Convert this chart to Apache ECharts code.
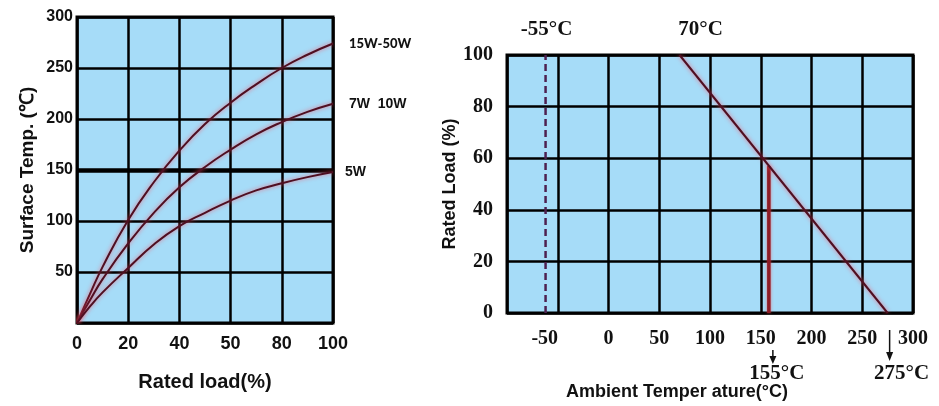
<!DOCTYPE html>
<html><head><meta charset="utf-8">
<script src="https://cdn.jsdelivr.net/npm/echarts@6/dist/echarts.min.js"></script>
<style>html,body{margin:0;padding:0;background:#fff}#c{width:939px;height:406px}</style>
</head><body><div id="c"></div>
<script>
// ---- Left chart data: surface temperature vs rated load ----
const loadPos = [0, 5, 10, 20, 30, 40, 50, 60, 70, 80, 90, 100];
const temp15to50W = [0, 28, 55, 101, 138, 169, 195, 216, 234, 250, 263, 274];
const temp7to10W = [0, 22, 43, 78, 108, 133, 153, 170, 185, 197, 207, 215];
const temp5W = [0, 16, 30, 54, 77, 95, 108, 120, 130, 137, 143, 148];
const loadTickLabels = ['0', '20', '40', '50', '80', '100'];
const seriesNames = ['15W-50W', '7W  10W', '5W'];
const refTemp = 150;

// ---- Right chart data: derating curve ----
const derateTemp = [70, 275];
const derateLoad = [100, 0];
const minTempLine = -62;          // dashed line (labelled -55°C)
const minTempLabel = '-55°C';
const kneeLabel = '70°C';
const ratedTemp = 158;            // red vertical line (labelled 155°C)
const ratedTempTop = 57;
const ratedTempLabel = '155°C';
const maxTempLabel = '275°C';

const BLUE = '#a6dcf8';
const CURVE = '#4f0f22';
const SANS = 'Liberation Sans, Arial, sans-serif';
const SERIF = 'Liberation Serif, Times New Roman, serif';

const zip = (xs, ys) => xs.map((x, i) => [x, ys[i]]);
const glow = { shadowColor: 'rgba(255,70,90,0.75)', shadowBlur: 4 };

const chart = echarts.init(document.getElementById('c'), null, { renderer: 'canvas' });

function curve(name, data) {
  return {
    type: 'line', name, xAxisIndex: 0, yAxisIndex: 0, data: zip(loadPos, data),
    smooth: 0.5, symbol: 'none', z: 5,
    lineStyle: Object.assign({ color: CURVE, width: 2 }, glow),
    endLabel: {
      show: true, formatter: name, offset: [name === '5W' ? 4 : 8, 0],
      fontFamily: name === '15W-50W' ? 'Lato, Open Sans, sans-serif' : SANS,
      fontWeight: name === '15W-50W' ? 900 : 'bold',
      fontSize: name === '15W-50W' ? 13 : 14, color: '#111'
    }
  };
}

const option = {
  animation: false,
  grid: [
    { left: 77, top: 17, width: 256, height: 306, show: true, backgroundColor: BLUE, borderColor: '#000', borderWidth: 3 },
    { left: 507, top: 55, width: 406, height: 261, show: true, backgroundColor: BLUE, borderColor: '#000', borderWidth: 3 }
  ],
  xAxis: [
    {
      gridIndex: 0, type: 'value', min: 0, max: 100, interval: 20,
      axisLine: { show: false }, axisTick: { show: false },
      splitLine: { lineStyle: { color: '#000', width: 2.5 } },
      axisLabel: { formatter: v => loadTickLabels[Math.round(v / 20)], fontFamily: SANS, fontWeight: 'bold', fontSize: 18, color: '#111', margin: 12 },
      name: 'Rated load(%)', nameLocation: 'middle', nameGap: 49,
      nameTextStyle: { fontFamily: SANS, fontWeight: 'bold', fontSize: 20, color: '#111' }
    },
    {
      gridIndex: 1, type: 'value', min: -100, max: 300, interval: 50,
      axisLine: { show: false }, axisTick: { show: false },
      splitLine: { lineStyle: { color: '#000', width: 2.5 } },
      axisLabel: {
        formatter: v => v === -100 ? '' : (v === -50 ? '{s|' + v + '}' : String(v)),
        rich: { s: { padding: [0, 26, 0, 0], fontFamily: SERIF, fontWeight: 'bold', fontSize: 20, color: '#111' } },
        fontFamily: SERIF, fontWeight: 'bold', fontSize: 20, color: '#111', margin: 16, showMaxLabel: true
      },
      name: 'Ambient Temper ature(°C)', nameLocation: 'middle', nameGap: 70,
      nameTextStyle: { fontFamily: SANS, fontWeight: 'bold', fontSize: 18, color: '#111', padding: [0, 66, 0, 0] }
    }
  ],
  yAxis: [
    {
      gridIndex: 0, type: 'value', min: 0, max: 300, interval: 50,
      axisLine: { show: false }, axisTick: { show: false },
      splitLine: { lineStyle: { color: '#000', width: 2.5 } },
      axisLabel: { formatter: v => v === 0 ? '' : String(v), fontFamily: SANS, fontWeight: 'bold', fontSize: 16, color: '#111', margin: 4 },
      name: 'Surface Temp. (℃)', nameLocation: 'middle', nameGap: 40, nameRotate: 90,
      nameTextStyle: { fontFamily: SANS, fontWeight: 'bold', fontSize: 19, color: '#111' }
    },
    {
      gridIndex: 1, type: 'value', min: 0, max: 100, interval: 20,
      axisLine: { show: false }, axisTick: { show: false },
      splitLine: { lineStyle: { color: '#000', width: 2.5 } },
      axisLabel: { fontFamily: SERIF, fontWeight: 'bold', fontSize: 20, color: '#111', margin: 14 },
      name: 'Rated Load (%)', nameLocation: 'middle', nameGap: 42, nameRotate: 90,
      nameTextStyle: { fontFamily: SANS, fontWeight: 'bold', fontSize: 18, color: '#111' }
    }
  ],
  series: [
    curve(seriesNames[0], temp15to50W),
    curve(seriesNames[1], temp7to10W),
    curve(seriesNames[2], temp5W),
    {
      type: 'line', xAxisIndex: 0, yAxisIndex: 0, data: [], silent: true,
      markLine: { silent: true, symbol: 'none', label: { show: false },
        lineStyle: { color: '#000', width: 4.5, type: 'solid' }, data: [{ yAxis: refTemp }] }
    },
    {
      type: 'line', xAxisIndex: 1, yAxisIndex: 1, data: zip(derateTemp, derateLoad),
      symbol: 'none', z: 5, lineStyle: Object.assign({ color: CURVE, width: 2 }, glow)
    },
    {
      type: 'line', xAxisIndex: 1, yAxisIndex: 1, data: [[ratedTemp, 0], [ratedTemp, ratedTempTop]],
      symbol: 'none', z: 4, lineStyle: { color: '#8e1c26', width: 3.5, shadowColor: 'rgba(255,60,60,0.7)', shadowBlur: 3 }
    },
    {
      type: 'line', xAxisIndex: 1, yAxisIndex: 1, data: [[minTempLine, 0], [minTempLine, 100]],
      symbol: 'none', z: 4, lineStyle: { color: '#4d2050', width: 2.5, type: [7, 4] }
    }
  ]
};
chart.setOption(option);

// annotations placed through the axes
const px = (x, y) => chart.convertToPixel({ gridIndex: 1 }, [x, y]);
const serifText = (text, x, y) => ({
  type: 'text', x, y, style: { text, fontFamily: SERIF, fontWeight: 'bold', fontSize: 21, fill: '#111', align: 'center', verticalAlign: 'middle' }
});
const pMin = px(minTempLine, 100);
const pKnee = px(derateTemp[0], 100);
const pRated = px(ratedTemp, 0);
const pMax = px(derateTemp[1], 0);
const arrow = (x, y1, y2, head) => ([
  { type: 'line', shape: { x1: x, y1: y1, x2: x, y2: y2 - head }, style: { stroke: '#111', lineWidth: 1.5 } },
  { type: 'polygon', shape: { points: [[x - 3.5, y2 - head - 1], [x + 3.5, y2 - head - 1], [x, y2]] }, style: { fill: '#111' } }
]);
chart.setOption({
  graphic: [
    serifText(minTempLabel, pMin[0] + 1, pMin[1] - 25),
    serifText(kneeLabel, pKnee[0] + 21, pKnee[1] - 25),
    serifText(ratedTempLabel, pRated[0] + 8, pRated[1] + 61),
    serifText(maxTempLabel, pMax[0] + 14, pMax[1] + 61),
    ...arrow(pRated[0] + 4, pRated[1] + 37, pRated[1] + 51, 7),
    ...arrow(pMax[0] + 2, pMax[1] + 17, pMax[1] + 48, 8)
  ]
});
</script>
</body></html>
